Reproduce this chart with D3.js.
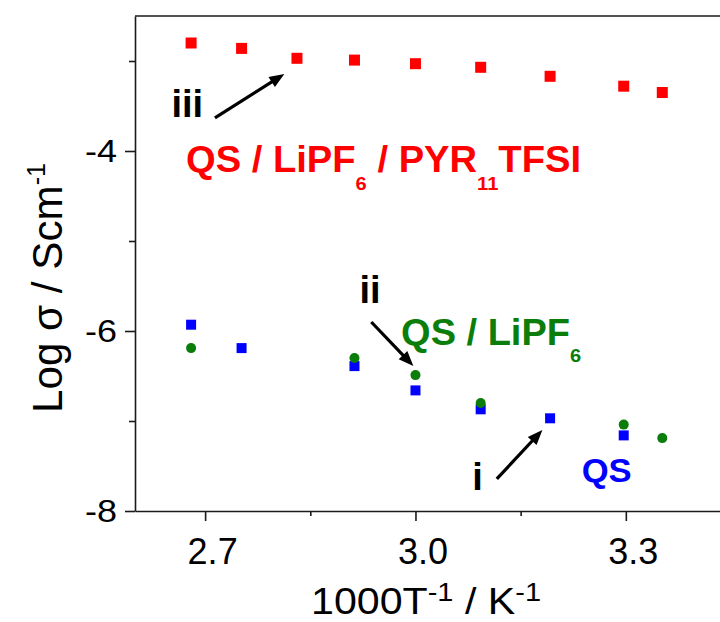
<!DOCTYPE html>
<html>
<head>
<meta charset="utf-8">
<script src="https://cdn.jsdelivr.net/npm/d3@7"></script>
<style>
  html, body { margin: 0; padding: 0; background: #fff; }
  svg { display: block; font-family: "Liberation Sans", Arial, sans-serif; }
</style>
</head>
<body>
<svg id="chart" width="720" height="622"></svg>
<script>
// Inverse temperature (1000/T, K^-1) and log conductivity (S cm^-1) for each electrolyte
const xIonicLiquid = [2.680, 2.752, 2.831, 2.913, 3.000, 3.093, 3.192, 3.297, 3.352];
const logIonicLiquid = [-2.80, -2.86, -2.97, -2.99, -3.03, -3.07, -3.17, -3.28, -3.35];

const xQS = [2.680, 2.752, 2.913, 3.000, 3.093, 3.192, 3.297];
const logQS = [-5.93, -6.19, -6.39, -6.66, -6.87, -6.97, -7.16];

const xSalt = [2.680, 2.913, 3.000, 3.093, 3.297, 3.352];
const logSalt = [-6.19, -6.30, -6.49, -6.80, -7.04, -7.19];

const xMajorTicks = [2.7, 3.0, 3.3];
const xMinorTicks = [2.85, 3.15];
const yMajorTicks = [-8, -6, -4];
const yMinorTicks = [-7, -5, -3];

const svg = d3.select("#chart");
const FONT = '"Liberation Sans", Arial, sans-serif';

const x = d3.scaleLinear().domain([2.6, 3.45]).range([135, 731]);
const y = d3.scaleLinear().domain([-8, -2.5]).range([511, 16]);

const axisColor = "#1a1a1a";

// frame: top and right borders
svg.append("line")
  .attr("x1", x(2.6)).attr("x2", x(3.45))
  .attr("y1", y(-2.5)).attr("y2", y(-2.5))
  .attr("stroke", axisColor).attr("stroke-width", 1.6);
svg.append("line")
  .attr("x1", x(3.45)).attr("x2", x(3.45))
  .attr("y1", y(-2.5)).attr("y2", y(-8))
  .attr("stroke", axisColor).attr("stroke-width", 1.6);

// y axis
const gy = svg.append("g").attr("transform", `translate(${x(2.6)},0)`)
  .call(d3.axisLeft(y).tickValues(yMajorTicks).tickSize(10).tickSizeOuter(0)
    .tickPadding(8).tickFormat(d => String(d)));
svg.append("g").attr("transform", `translate(${x(2.6)},0)`)
  .call(d3.axisLeft(y).tickValues(yMinorTicks).tickSize(6).tickSizeOuter(0).tickFormat(""))
  .select(".domain").remove();

// x axis
const gx = svg.append("g").attr("transform", `translate(0,${y(-8)})`)
  .call(d3.axisBottom(x).tickValues(xMajorTicks).tickSize(10).tickSizeOuter(0)
    .tickFormat(d3.format(".1f")));
svg.append("g").attr("transform", `translate(0,${y(-8)})`)
  .call(d3.axisBottom(x).tickValues(xMinorTicks).tickSize(5).tickSizeOuter(0).tickFormat(""))
  .select(".domain").remove();

svg.selectAll(".domain, .tick line")
  .attr("stroke", axisColor).attr("stroke-width", 1.6);

gy.selectAll(".tick text")
  .attr("font-family", FONT).attr("font-size", 32).attr("fill", "#000")
  .attr("dy", "0.34em")
  .attr("textLength", 32).attr("lengthAdjust", "spacingAndGlyphs");

gx.selectAll(".tick text")
  .attr("font-family", FONT).attr("font-size", 36).attr("fill", "#000")
  .attr("y", 53).attr("dy", 0).attr("dx", 7);

// axis titles
const yTitle = svg.append("text")
  .attr("transform", `translate(62,288) rotate(-90)`)
  .attr("text-anchor", "middle")
  .attr("font-family", FONT).attr("font-size", 42).attr("fill", "#000")
  .attr("textLength", 250).attr("lengthAdjust", "spacingAndGlyphs");
yTitle.append("tspan").text("Log σ / Scm");
yTitle.append("tspan").attr("font-size", 25).attr("dy", -17).text("-1");

const xTitle = svg.append("text")
  .attr("x", 311).attr("y", 614)
  .attr("font-family", FONT).attr("font-size", 37).attr("fill", "#000")
  .attr("textLength", 230).attr("lengthAdjust", "spacingAndGlyphs");
xTitle.append("tspan").text("1000T");
xTitle.append("tspan").attr("font-size", 26).attr("dy", -13).text("-1");
xTitle.append("tspan").attr("dy", 13).text(" / K");
xTitle.append("tspan").attr("font-size", 26).attr("dy", -13).text("-1");

// markers
const plot = svg.append("g");
const redSize = 11, blueSize = 10;

plot.selectAll("rect.il").data(d3.zip(xIonicLiquid, logIonicLiquid)).join("rect")
  .attr("class", "il")
  .attr("x", d => x(d[0]) - redSize / 2).attr("y", d => y(d[1]) - redSize / 2)
  .attr("width", redSize).attr("height", redSize).attr("fill", "#ff0000");

plot.selectAll("rect.qs").data(d3.zip(xQS, logQS)).join("rect")
  .attr("class", "qs")
  .attr("x", d => x(d[0]) - blueSize / 2).attr("y", d => y(d[1]) - blueSize / 2)
  .attr("width", blueSize).attr("height", blueSize).attr("fill", "#0000ff");

plot.selectAll("circle.salt").data(d3.zip(xSalt, logSalt)).join("circle")
  .attr("class", "salt")
  .attr("cx", d => x(d[0])).attr("cy", d => y(d[1]))
  .attr("r", 5).attr("fill", "#0a7d0a");

// arrows pointing at the labelled series
function arrow(x0, y0, x1, y1) {
  const px0 = x(x0), py0 = y(y0), px1 = x(x1), py1 = y(y1);
  const ang = Math.atan2(py1 - py0, px1 - px0);
  const headLen = 15, headHalf = 6;
  const bx = px1 - headLen * Math.cos(ang), by = py1 - headLen * Math.sin(ang);
  svg.append("line")
    .attr("x1", px0).attr("y1", py0).attr("x2", bx + 2 * Math.cos(ang)).attr("y2", by + 2 * Math.sin(ang))
    .attr("stroke", "#000").attr("stroke-width", 3.2);
  const nx = -Math.sin(ang), ny = Math.cos(ang);
  svg.append("path")
    .attr("d", `M${px1},${py1}L${bx + headHalf * nx},${by + headHalf * ny}L${bx - headHalf * nx},${by - headHalf * ny}Z`)
    .attr("fill", "#000");
}
arrow(2.714, -3.633, 2.813, -3.144);
arrow(2.937, -5.900, 2.997, -6.389);
arrow(3.116, -7.644, 3.181, -7.100);

// roman numeral labels
function numeral(txt, xv, yv) {
  svg.append("text").attr("x", x(xv)).attr("y", y(yv))
    .attr("font-family", FONT).attr("font-weight", "bold").attr("font-size", 38)
    .attr("fill", "#000").text(txt);
}
numeral("iii", 2.652, -3.622);
numeral("ii", 2.920, -5.689);
numeral("i", 3.081, -7.767);

// series labels with subscripts
function seriesLabel(parts, xv, yv, color, size, subSize, subShift, len) {
  const t = svg.append("text").attr("x", x(xv)).attr("y", y(yv))
    .attr("font-family", FONT).attr("font-weight", "bold").attr("font-size", size)
    .attr("fill", color);
  if (len) t.attr("textLength", len).attr("lengthAdjust", "spacingAndGlyphs");
  let shifted = 0;
  parts.forEach(p => {
    const s = t.append("tspan").text(p.text);
    if (p.sub) { s.attr("font-size", subSize).attr("dy", subShift - shifted); shifted = subShift; }
    else { s.attr("dy", -shifted); shifted = 0; }
  });
}
seriesLabel([{ text: "QS / LiPF" }, { text: "6", sub: true }, { text: " / PYR" },
             { text: "11", sub: true }, { text: "TFSI" }],
            2.6728, -4.233, "#ff0000", 36, 19, 18, 395);
seriesLabel([{ text: "QS / LiPF" }, { text: "6", sub: true }],
            2.9795, -6.156, "#0a7d0a", 36, 19, 17, 180);
seriesLabel([{ text: "QS" }], 3.237, -7.678, "#0000ff", 33, 18, 0, 50);
</script>
</body>
</html>
